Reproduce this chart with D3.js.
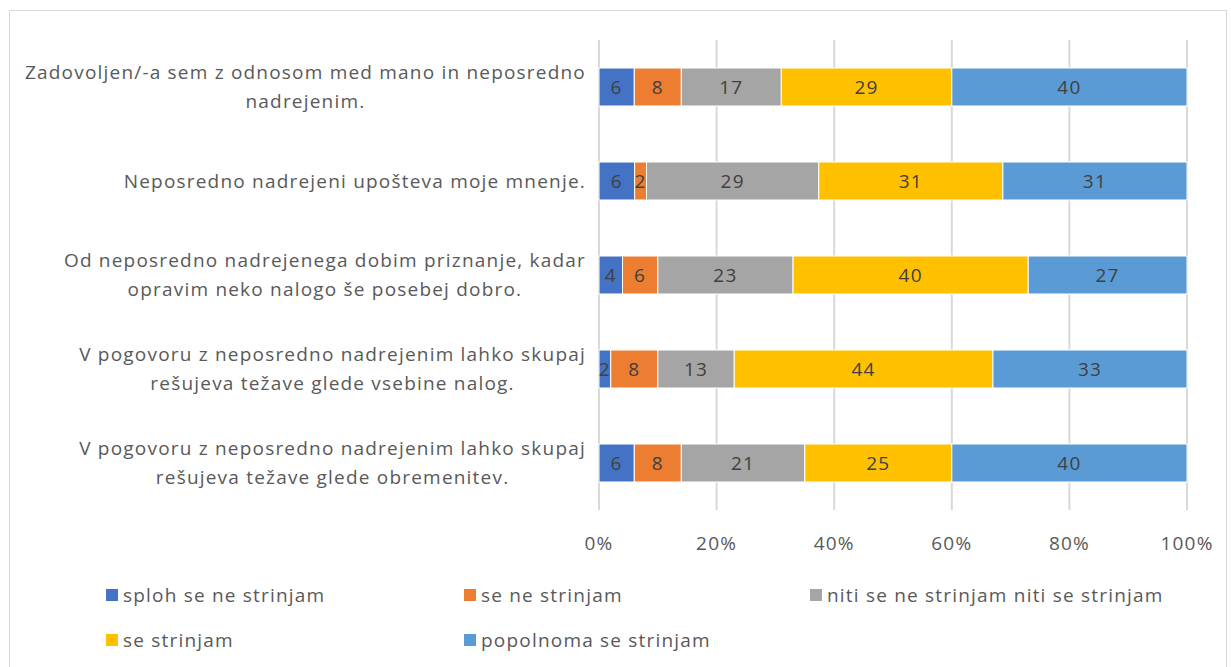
<!DOCTYPE html>
<html>
<head>
<meta charset="utf-8">
<script src="https://cdn.jsdelivr.net/npm/d3@7"></script>
<style>
  body { margin: 0; background: #fff; }
  text { font-family: "Open Sans", Lato, sans-serif; letter-spacing: 1.2px; }
</style>
</head>
<body>
<div id="container"></div>
<script>
// data
var categories = [
  ["Zadovoljen/-a sem z odnosom med mano in neposredno", "nadrejenim."],
  ["Neposredno nadrejeni upošteva moje mnenje."],
  ["Od neposredno nadrejenega dobim priznanje, kadar", "opravim neko nalogo še posebej dobro."],
  ["V pogovoru z neposredno nadrejenim lahko skupaj", "rešujeva težave glede vsebine nalog."],
  ["V pogovoru z neposredno nadrejenim lahko skupaj", "rešujeva težave glede obremenitev."]
];
var seriesNames = ["sploh se ne strinjam", "se ne strinjam", "niti se ne strinjam niti se strinjam", "se strinjam", "popolnoma se strinjam"];
var sploh = [6, 6, 4, 2, 6];
var neStrinjam = [8, 2, 6, 8, 8];
var niti = [17, 29, 23, 13, 21];
var strinjam = [29, 31, 40, 44, 25];
var popolnoma = [40, 31, 27, 33, 40];
var colors = ["#4472C4", "#ED7D31", "#A5A5A5", "#FFC000", "#5B9BD5"];
var ticks = [0, 0.2, 0.4, 0.6, 0.8, 1];

var W = 1231, H = 667;
var FS = 19;
var svg = d3.select("#container").append("svg")
  .attr("width", W).attr("height", H);

// chart border
svg.append("rect")
  .attr("x", 9.5).attr("y", 10.5)
  .attr("width", 1217).attr("height", 670)
  .attr("fill", "#fff").attr("stroke", "#d9d9d9");

var x = d3.scaleLinear().domain([0, 1]).range([599, 1187]);
var y = d3.scaleBand().domain(d3.range(categories.length))
  .range([40, 510]).paddingInner(0.596).paddingOuter(0.298);

// gridlines
svg.append("g").selectAll("line").data(ticks).enter().append("line")
  .attr("x1", function (d) { return x(d); })
  .attr("x2", function (d) { return x(d); })
  .attr("y1", 40).attr("y2", 510)
  .attr("stroke", "#d9d9d9").attr("stroke-width", 2);

// stack normalized rows
var rows = categories.map(function (c, i) {
  return { i: i, vals: [sploh[i], neStrinjam[i], niti[i], strinjam[i], popolnoma[i]] };
});
var tableRows = rows.map(function (r) {
  var o = { i: r.i }, tot = d3.sum(r.vals);
  seriesNames.forEach(function (s, k) { o[s] = r.vals[k] / tot; o["_" + s] = r.vals[k]; });
  return o;
});
var stacked = d3.stack().keys(seriesNames)(tableRows);

var layers = svg.append("g").selectAll("g").data(stacked).enter().append("g")
  .attr("fill", function (d, k) { return colors[k]; });

layers.selectAll("rect").data(function (d) { return d; }).enter().append("rect")
  .attr("x", function (d) { return x(d[0]); })
  .attr("y", function (d) { return y(d.data.i); })
  .attr("width", function (d) { return x(d[1]) - x(d[0]); })
  .attr("height", y.bandwidth())
  .attr("stroke", "#fff").attr("stroke-width", 1);

layers.each(function (layer) {
  d3.select(this).selectAll("text").data(layer).enter().append("text")
    .attr("x", function (d) { return (x(d[0]) + x(d[1])) / 2; })
    .attr("y", function (d) { return y(d.data.i) + y.bandwidth() / 2; })
    .attr("dy", "0.35em")
    .attr("text-anchor", "middle")
    .attr("font-size", FS)
    .attr("fill", "#404040")
    .text(function (d) { return d.data["_" + layer.key]; });
});

// category labels: centred block, right edge at 585
var catG = svg.append("g");
categories.forEach(function (lines, i) {
  var cy = y(i) + y.bandwidth() / 2;
  var t = catG.append("text")
    .attr("text-anchor", "middle")
    .attr("font-size", FS)
    .attr("fill", "#595959");
  var spans = lines.map(function (ln, j) {
    return t.append("tspan")
      .attr("y", cy + (j - (lines.length - 1) / 2) * 29)
      .attr("dy", "0.35em")
      .text(ln);
  });
  var maxW = d3.max(spans, function (s) { return s.node().getComputedTextLength(); });
  spans.forEach(function (s) { s.attr("x", 586 - maxW / 2); });
});

// x axis labels
svg.append("g").selectAll("text").data(ticks).enter().append("text")
  .attr("x", function (d) { return x(d); })
  .attr("y", 543).attr("dy", "0.35em")
  .attr("text-anchor", "middle")
  .attr("font-size", FS)
  .attr("fill", "#595959")
  .text(d3.format(".0%"));

// legend
var legendPos = [[106, 595], [464, 595], [810, 595], [106, 640], [464, 640]];
var leg = svg.append("g").selectAll("g").data(seriesNames).enter().append("g")
  .attr("transform", function (d, k) { return "translate(" + legendPos[k][0] + "," + legendPos[k][1] + ")"; });
leg.append("rect")
  .attr("x", 0).attr("y", -6).attr("width", 12).attr("height", 12)
  .attr("fill", function (d, k) { return colors[k]; });
leg.append("text")
  .attr("x", 17).attr("dy", "0.35em")
  .attr("font-size", FS)
  .attr("fill", "#595959")
  .text(function (d) { return d; });
</script>
</body>
</html>
